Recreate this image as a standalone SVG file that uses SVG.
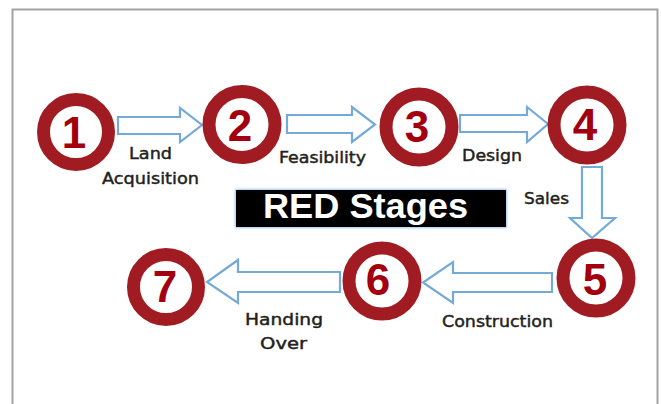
<svg xmlns="http://www.w3.org/2000/svg" width="661" height="404" viewBox="0 0 661 404">
<defs>
<filter id="soft" x="-20%" y="-20%" width="140%" height="140%"><feGaussianBlur stdDeviation="0.7"/></filter>
<filter id="glow" x="-10%" y="-30%" width="120%" height="160%"><feGaussianBlur stdDeviation="1.2"/></filter>
</defs>
<style>
.frame{stroke:#a3a3a3;stroke-width:2;fill:none}
.ring{fill:#ffffff;stroke:#a11d21;stroke-width:13;filter:url(#soft)}
.num{font-family:"Liberation Sans",Arial,sans-serif;font-weight:bold;font-size:44px;fill:#a3000f;text-anchor:middle}
.arrow{fill:#ffffff;stroke:#74a9d8;stroke-width:2.2;stroke-linejoin:miter}
.lbl{font-family:"DejaVu Sans","Liberation Sans",sans-serif;font-size:16px;fill:#231f20;stroke:#231f20;stroke-width:0.45}
.title{font-family:"Liberation Sans",Arial,sans-serif;font-weight:bold;font-size:35px;fill:#ffffff}
</style>
<rect width="661" height="404" fill="#ffffff"/>
<path class="frame" d="M12.5,404 V9.5 H657.5 V404"/>

<g id="connectors">
<polygon class="arrow" points="118,117 180,117 180,108 202,125 180,142 180,134 118,134"/>
<polygon class="arrow" points="287,115 352,115 352,107 375,124.5 352,142 352,133 287,133"/>
<polygon class="arrow" points="460,115 527,115 527,107 548,124 527,142 527,132 460,132"/>
<polygon class="arrow" points="582,167 602,167 602,218 615,218 592,238 570,218 582,218"/>
<polygon class="arrow" points="552,273 453,273 453,262 423,282.5 453,303 453,292 552,292"/>
<polygon class="arrow" points="340,272 238,272 238,260 207,282 238,303 238,292 340,292"/>
<text class="lbl" x="129" y="159" textLength="43" lengthAdjust="spacingAndGlyphs">Land</text>
<text class="lbl" x="102" y="184" textLength="97" lengthAdjust="spacingAndGlyphs">Acquisition</text>
<text class="lbl" x="279" y="163" textLength="87" lengthAdjust="spacingAndGlyphs">Feasibility</text>
<text class="lbl" x="462" y="161" textLength="60" lengthAdjust="spacingAndGlyphs">Design</text>
<text class="lbl" x="524" y="204" textLength="45" lengthAdjust="spacingAndGlyphs">Sales</text>
<text class="lbl" x="442" y="327" textLength="111" lengthAdjust="spacingAndGlyphs">Construction</text>
<text class="lbl" x="245" y="325" textLength="78" lengthAdjust="spacingAndGlyphs">Handing</text>
<text class="lbl" x="260" y="349" textLength="47" lengthAdjust="spacingAndGlyphs">Over</text>
</g>

<g id="stage1"><circle class="ring" cx="76" cy="132" r="32.5"/><text class="num" x="74" y="148">1</text></g>
<g id="stage2"><circle class="ring" cx="242" cy="124.5" r="33"/><text class="num" x="240" y="141">2</text></g>
<g id="stage3"><circle class="ring" cx="419" cy="127" r="33"/><text class="num" x="417" y="142">3</text></g>
<g id="stage4"><circle class="ring" cx="587" cy="125" r="33"/><text class="num" x="585" y="140">4</text></g>
<g id="stage5"><circle class="ring" cx="596" cy="278" r="33"/><text class="num" x="595" y="295">5</text></g>
<g id="stage6"><circle class="ring" cx="382" cy="281" r="33"/><text class="num" x="378" y="295">6</text></g>
<g id="stage7"><circle class="ring" cx="166" cy="287" r="32.5"/><text class="num" x="165" y="302">7</text></g>

<g id="title">
<rect x="235" y="189" width="272" height="39" fill="#9cc6ea" filter="url(#glow)"/>
<rect x="236" y="190" width="270" height="37" fill="#000000"/>
<text class="title" x="263" y="218" textLength="205" lengthAdjust="spacingAndGlyphs">RED Stages</text>
</g>
</svg>
